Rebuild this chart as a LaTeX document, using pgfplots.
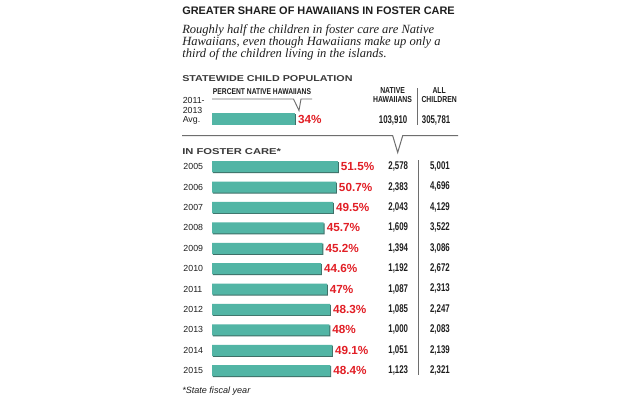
\documentclass[border=0pt]{standalone}
\usepackage{fontspec}
\setmainfont{Liberation Sans}
\newfontfamily\serifit{Liberation Serif}
\usepackage{graphicx}
\usepackage{pgfplots}
\usepackage{pgfplotstable}
\pgfplotsset{compat=1.18}
\definecolor{teal1}{HTML}{52B5A5}
\definecolor{tealdark}{HTML}{3E6F67}
\definecolor{red1}{HTML}{E21F26}
\definecolor{ink}{HTML}{1E1E1E}
\definecolor{sect}{HTML}{3A3A3A}
\definecolor{rulec}{HTML}{6E6E6E}

\pgfplotstableread{
i v
-2.34 34
}\avgtab
\pgfplotstableread{
i v
0 51.5
1 50.7
2 49.5
3 45.7
4 45.2
5 44.6
6 47
7 48.3
8 48
9 49.1
10 48.4
}\fostertab

\begin{document}
\begin{tikzpicture}
\begin{scope}[x=0.75pt,y=-0.75pt]
\fill[white] (0,0) rectangle (640,400);
\useasboundingbox (0,0) rectangle (640,400);
% title
\node[anchor=base west, inner sep=0pt, text=ink, font=\bfseries\fontsize{8.2}{10}\selectfont] at (182,14) {GREATER SHARE OF HAWAIIANS IN FOSTER CARE};
\begin{scope}[every node/.style={anchor=base west, inner sep=0pt, text=ink, font=\serifit\itshape\fontsize{9.4}{12}\selectfont}]
\node at (182,33.3) {Roughly half the children in foster care are Native};
\node at (182,45.3) {Hawaiians, even though Hawaiians make up only a};
\node at (182,57.3) {third of the children living in the islands.};
\end{scope}
% section headers
\node[anchor=base west, inner sep=0pt, text=sect, font=\bfseries\fontsize{6.4}{7}\selectfont] at (182,81) {\scalebox{1.26}[1]{STATEWIDE CHILD POPULATION}};
\node[anchor=base west, inner sep=0pt, text=sect, font=\bfseries\fontsize{6.4}{7}\selectfont] at (182,154.5) {\scalebox{1.31}[1]{IN FOSTER CARE*}};
% percent native hawaiians label + pointer
\node[anchor=base west, inner sep=0pt, text=ink, font=\bfseries\fontsize{6.3}{7}\selectfont] at (212.7,94) {\scalebox{0.8}[1]{PERCENT NATIVE HAWAIIANS}};
\draw[rulec, line width=0.7pt] (212,99)--(293.5,99)--(299,110.5)--(301,99)--(312,99);
% column headers
\begin{scope}[every node/.style={anchor=base, inner sep=0pt, text=ink, font=\bfseries\fontsize{6.5}{7}\selectfont}]
\node at (392.6,93.5) {\scalebox{0.79}[1]{NATIVE}};
\node at (392.6,102.7) {\scalebox{0.79}[1]{HAWAIIANS}};
\node at (439.2,93.5) {\scalebox{0.79}[1]{ALL}};
\node at (439.2,102.7) {\scalebox{0.79}[1]{CHILDREN}};
\end{scope}
\draw[rulec, line width=0.75pt] (417.7,88)--(417.7,125);
\draw[rulec, line width=0.75pt] (418.3,160)--(418.3,375);
% big separator
\draw[rulec, line width=0.75pt] (182,135.7)--(392.7,135.7)--(397.7,152.5)--(402.7,135.7)--(458,135.7);
% avg labels
\begin{scope}[every node/.style={anchor=base west, inner sep=0pt, text=ink, font=\fontsize{6.6}{8}\selectfont}]
\node at (182.5,103.8) {2011-};
\node at (182.5,113.2) {2013};
\node at (182.5,122.6) {Avg.};
\end{scope}
% numbers
\begin{scope}[every node/.style={inner sep=0pt, text=ink, font=\bfseries\fontsize{8.4}{9}\selectfont}]
\node[anchor=base east] at (407.5,123.8) {\scalebox{0.7}[1]{103,910}};
\node[anchor=base east] at (450.5,123.8) {\scalebox{0.7}[1]{305,781}};
\foreach \i/\a/\b in {0/{2,578}/{5,001}, 1/{2,383}/{4,696}, 2/{2,043}/{4,129}, 3/{1,609}/{3,522}, 4/{1,394}/{3,086}, 5/{1,192}/{2,672}, 6/{1,087}/{2,313}, 7/{1,085}/{2,247}, 8/{1,000}/{2,083}, 9/{1,051}/{2,139}, 10/{1,123}/{2,321}}{
  \node[anchor=east] at (408.3,{166.7+20.4*\i}) {\scalebox{0.7}[1]{\a}};
  \node[anchor=east] at (450,{166.5+20.4*\i}) {\scalebox{0.7}[1]{\b}};
}
\end{scope}
% footnote
\node[anchor=base west, inner sep=0pt, text=ink, font=\itshape\fontsize{6.8}{8}\selectfont] at (182,393.5) {*State fiscal year};
\end{scope}

\begin{axis}[
  at={(159pt,-79.125pt)}, anchor=north west,
  scale only axis, width=110.0pt, height=214.2pt,
  xmin=0, xmax=60, ymin=-3, ymax=11, y dir=reverse,
  clip=false,
  axis line style={draw=none},
  xtick=\empty,
  ytick={0,...,10},
  yticklabels={2005,2006,2007,2008,2009,2010,2011,2012,2013,2014,2015},
  major tick length=0pt,
  yticklabel style={anchor=west, inner sep=0pt, xshift=-21.6pt, text=ink, font=\fontsize{6.6}{8}\selectfont},
]
% shadows
\addplot[xbar, bar shift=0pt, bar width=8.3pt, fill=tealdark, draw=none, xshift=0.7pt, yshift=-0.7pt] table[x=v, y=i] {\avgtab};
\addplot[xbar, bar shift=0pt, bar width=8.3pt, fill=tealdark, draw=none, xshift=0.7pt, yshift=-0.7pt] table[x=v, y=i] {\fostertab};
% bars
\addplot[xbar, bar shift=0pt, bar width=8.3pt, fill=teal1, draw=none,
  point meta=explicit symbolic,
  nodes near coords={\pgfplotspointmeta\%},
  every node near coord/.style={anchor=west, inner sep=0pt, xshift=2.1pt, text=red1, font=\bfseries\fontsize{8.8}{10}\selectfont}]
  table[x=v, y=i, meta=v] {\avgtab};
\addplot[xbar, bar shift=0pt, bar width=8.3pt, fill=teal1, draw=none,
  point meta=explicit symbolic,
  nodes near coords={\pgfplotspointmeta\%},
  every node near coord/.style={anchor=west, inner sep=0pt, xshift=2.1pt, text=red1, font=\bfseries\fontsize{8.8}{10}\selectfont}]
  table[x=v, y=i, meta=v] {\fostertab};
\end{axis}
\end{tikzpicture}
\end{document}
